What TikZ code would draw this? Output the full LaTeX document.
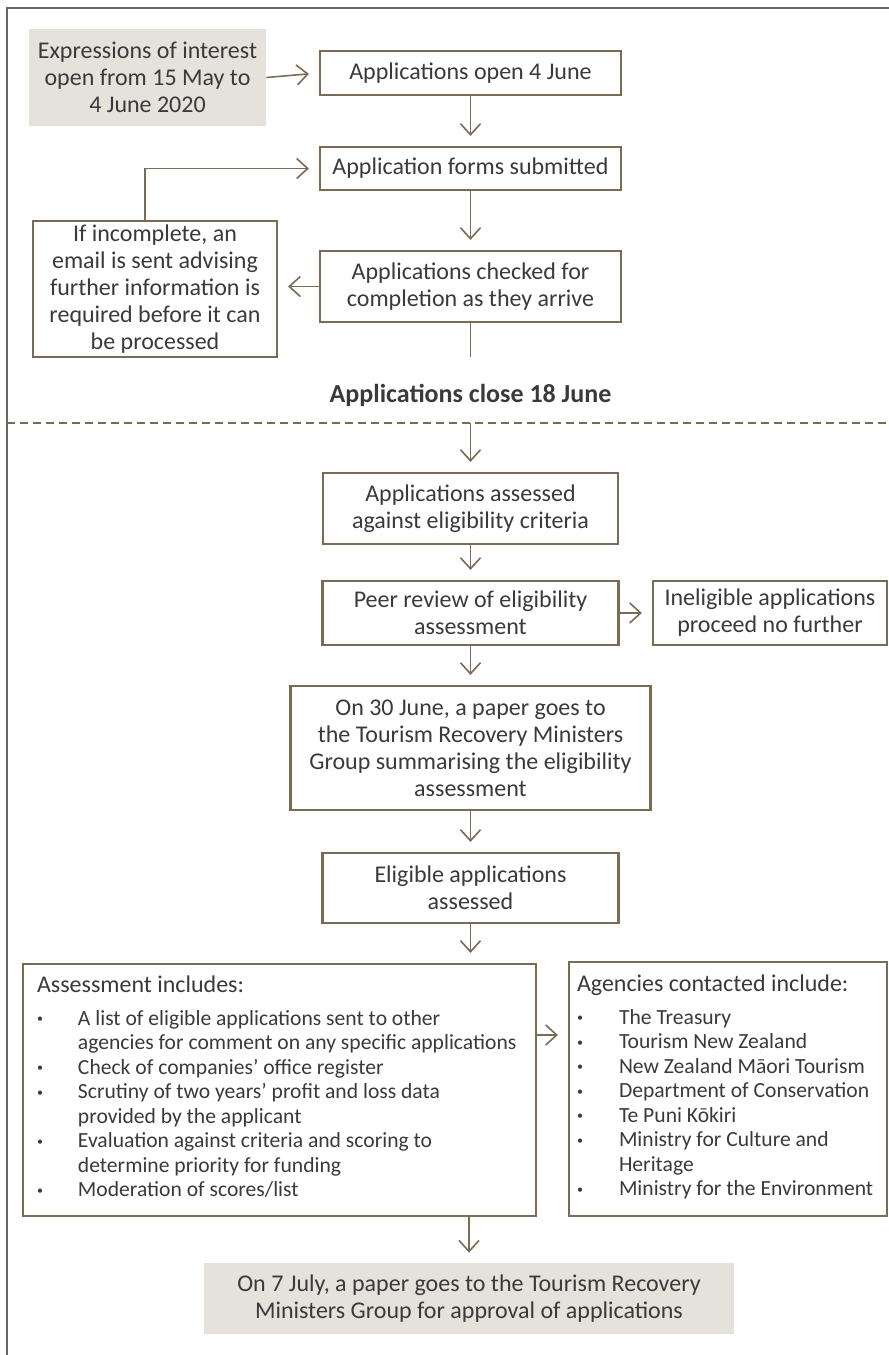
\documentclass[tikz,border=0pt]{standalone}
\usepackage{fontspec}
\setmainfont{Carlito}
\usetikzlibrary{arrows.meta}

\definecolor{boxbrown}{RGB}{122,107,84}
\definecolor{shadegrey}{RGB}{229,225,219}
\definecolor{textgray}{RGB}{58,58,58}
\newcommand{\boxfont}{\fontsize{12}{13.5}\selectfont}
\newcommand{\listfont}{\fontsize{10.8}{12.25}\selectfont}
\newcommand{\closefont}{\fontsize{13}{14}\selectfont\bfseries}
\newcommand{\dotmark}{\raisebox{0.25ex}{\fontsize{6}{6}\selectfont\textbullet}}

\begin{document}
\begin{tikzpicture}[
    x=0.5pt, y=-0.5pt,
    box/.style={draw=boxbrown, line width=1.1pt, fill=white, text=textgray, align=center, inner sep=0pt, font=\boxfont},
    shaded/.style={fill=shadegrey, text=textgray, align=center, inner sep=0pt, font=\boxfont},
    listbox/.style={box, font=\listfont, align=left},
    arr/.style={draw=boxbrown, line width=0.8pt, -{Straight Barb[length=5.5pt, width=10pt, line width=0.8pt]}, shorten >=5pt},
    link/.style={draw=boxbrown, line width=0.8pt},
    frame/.style={draw=black!60, line width=1pt}
  ]

    \useasboundingbox (0,0) rectangle (889,1355);

    % Page frame (top and left only)
    \draw[frame] (889,8) -- (7,8) -- (7,1355);

    % Application stage
    \node[shaded, minimum width=118.5pt, minimum height=48.5pt] (expr) at (147.5,77.5)
      {Expressions of interest\\ open from 15 May to\\ 4 June 2020};
    \node[box, minimum width=150.5pt, minimum height=22pt] (open) at (470.5,73) {Applications open 4 June};
    \node[box, minimum width=150.5pt, minimum height=21.5pt] (forms) at (470.5,168.5) {Application forms submitted};
    \node[box, minimum width=150.5pt, minimum height=35.5pt] (checked) at (470.5,286.5)
      {Applications checked for\\ completion as they arrive};
    \node[box, minimum width=122pt, minimum height=68pt] (incomplete) at (155,289)
      {If incomplete, an\\ email is sent advising\\ further information is\\ required before it can\\ be processed};
    \coordinate (checkend) at (470.5,357);

    \draw[arr] (expr.east) -- (open.west);
    \draw[arr] (open) -- (forms);
    \draw[arr] (forms) -- (checked);
    \draw[arr] (checked.west) -- (checked.west -| incomplete.east);
    \draw[arr] ([xshift=-5pt]incomplete.north) |- (forms.west);
    \draw[link] (checked.south) -- (checkend);

    % Closing line
    \node[text=textgray, font=\closefont] (close) at (470.5,395) {Applications close 18 June};
    \draw[boxbrown, line width=1pt, dash pattern=on 4pt off 2.5pt] (7,423) -- (889,423);
    \coordinate (dashmid) at (470.5,423);

    % Assessment stage
    \node[box, minimum width=147.5pt, minimum height=35.5pt] (assessed) at (470.5,508.5)
      {Applications assessed\\ against eligibility criteria};
    \node[box, minimum width=148pt, minimum height=32pt] (peer) at (470.5,613)
      {Peer review of eligibility\\ assessment};
    \node[box, minimum width=117pt, minimum height=32pt] (inelig) at (770,613)
      {Ineligible applications\\ proceed no further};
    \node[box, minimum width=180pt, minimum height=62pt] (june) at (470.5,748)
      {On 30 June, a paper goes to\\ the Tourism Recovery Ministers\\ Group summarising the eligibility\\ assessment};
    \node[box, minimum width=148pt, minimum height=35pt] (eligible) at (470.5,888)
      {Eligible applications\\ assessed};

    \draw[arr] (dashmid) -- (assessed);
    \draw[arr] (assessed) -- (peer);
    \draw[arr] (peer.east) -- (inelig.west);
    \draw[arr] (peer) -- (june);
    \draw[arr] (june) -- (eligible);

    % Lists
    \node[listbox, minimum width=256.5pt, minimum height=126pt] (assessment) at (279.5,1090) {%
      \begin{tabular}{@{}p{20.5pt}@{}p{222pt}@{}}
        \multicolumn{2}{@{}l@{}}{\boxfont Assessment includes:}\\[4pt]
        \dotmark & A list of eligible applications sent to other\\
          & agencies for comment on any specific applications\\
        \dotmark & Check of companies’ office register\\
        \dotmark & Scrutiny of two years’ profit and loss data\\
          & provided by the applicant\\
        \dotmark & Evaluation against criteria and scoring to\\
          & determine priority for funding\\
        \dotmark & Moderation of scores/list
      \end{tabular}};
    \node[listbox, minimum width=159pt, minimum height=127pt] (agencies) at (728,1089) {%
      \begin{tabular}{@{}p{21pt}@{}p{130pt}@{}}
        \multicolumn{2}{@{}l@{}}{\boxfont Agencies contacted include:}\\[4pt]
        \dotmark & The Treasury\\
        \dotmark & Tourism New Zealand\\
        \dotmark & New Zealand Māori Tourism\\
        \dotmark & Department of Conservation\\
        \dotmark & Te Puni Kōkiri\\
        \dotmark & Ministry for Culture and\\
          & Heritage\\
        \dotmark & Ministry for the Environment
      \end{tabular}};
    \node[shaded, minimum width=265pt, minimum height=35.5pt] (july) at (469,1298.5)
      {On 7 July, a paper goes to the Tourism Recovery\\ Ministers Group for approval of applications};

    \draw[arr] (eligible) -- (eligible |- assessment.north);
    \draw[arr] ([yshift=27.5pt]assessment.east) -- ([yshift=27.5pt]assessment.east -| agencies.west);
    \draw[arr] (assessment.south -| july.north) -- (july.north);

\end{tikzpicture}
\end{document}
